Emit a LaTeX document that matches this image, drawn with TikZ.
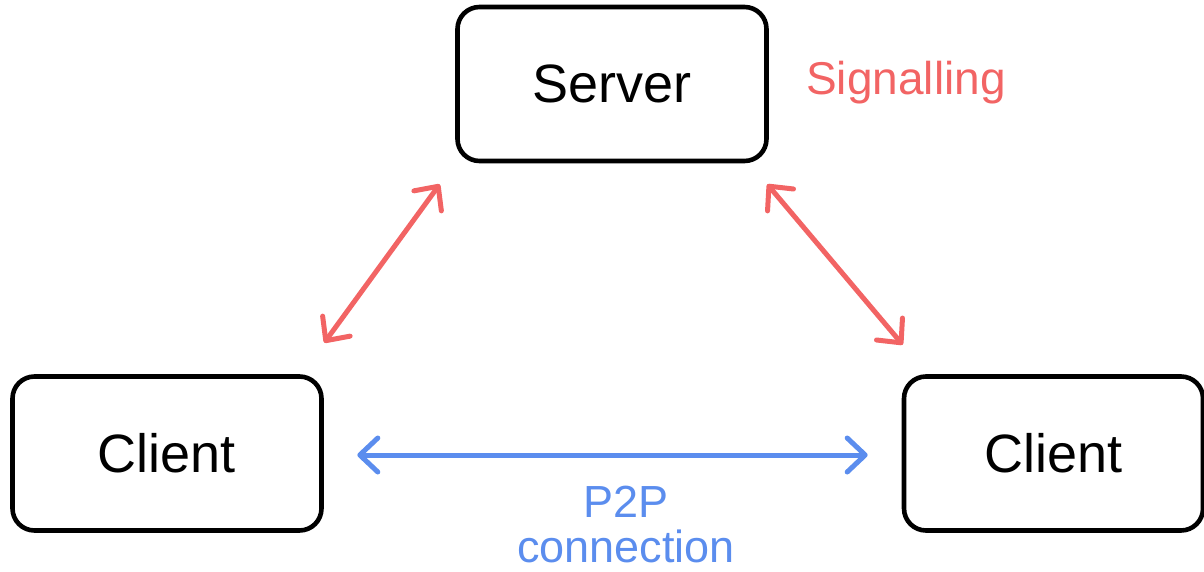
\documentclass[tikz,border=0pt]{standalone}
\usepackage{fontspec}
\setmainfont{Liberation Sans}
\usetikzlibrary{
    arrows.meta,
    calc
}

\definecolor{sigred}{HTML}{F26464}
\definecolor{ptpblue}{HTML}{5B8DEE}

\tikzset{
    box/.style={draw=black, line width=2.3pt, rounded corners=11pt,
        minimum height=77pt, inner sep=0pt,
        font=\fontsize{27}{32}\selectfont},
    link/.style={line width=2.5pt, line cap=round,
        {Straight Barb[length=9pt,width=17pt,round]}-{Straight Barb[length=9pt,width=17pt,round]}}
}

\begin{document}
\begin{tikzpicture}[x=0.5pt, y=-0.5pt]
\useasboundingbox (0,0) rectangle (1204,572);

% Boxes
\node[box, minimum width=154.5pt] (srv) at (612,84) {Server};
\node[box, minimum width=154.5pt] (cl) at (167,453.5) {Client};
\node[box, minimum width=149.5pt] (cr) at (1053.5,453.5) {Client};

% Signalling
\draw[link, sigred] ($(cl.north east)+(0.5,-31.5)$) -- ($(srv.south west)+(-15.5,21)$);
\draw[link, sigred] ($(srv.south east)+(-1.5,21)$) -- ($(cr.north west)+(1,-29.5)$);
\node[sigred, anchor=base, font=\fontsize{23}{23}\selectfont] (sig) at (906,95) {Signalling};

% P2P
\draw[link, ptpblue] ($(cl.east)+(33.5,1.5)$) -- ($(cr.west)+(-34,1.5)$);
\node[ptpblue, anchor=base, font=\fontsize{22.5}{22.5}\selectfont] (ptp) at (626,517) {P2P};
\node[ptpblue, anchor=base, font=\fontsize{22.5}{22.5}\selectfont] (conn) at (626,562) {connection};

\end{tikzpicture}
\end{document}
